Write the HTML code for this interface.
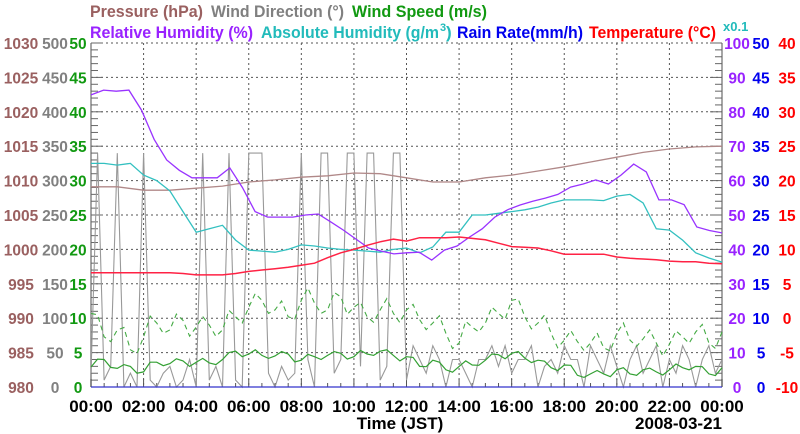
<!DOCTYPE html>
<html><head><meta charset="utf-8"><style>
html,body{margin:0;padding:0;background:#fff;}
svg{display:block;font-family:"Liberation Sans",Arial,sans-serif;font-weight:bold;}
</style></head><body>
<svg id="chart" width="800" height="434" viewBox="0 0 800 434" xmlns="http://www.w3.org/2000/svg">
<g font-size="17">
<text x="90" y="17" fill="#9a6060" textLength="113" lengthAdjust="spacingAndGlyphs">Pressure (hPa)</text>
<text x="211" y="17" fill="#808080" textLength="133" lengthAdjust="spacingAndGlyphs">Wind Direction (°)</text>
<text x="352" y="17" fill="#119911" textLength="135" lengthAdjust="spacingAndGlyphs">Wind Speed (m/s)</text>
<text x="90" y="38" fill="#9922ff" textLength="163" lengthAdjust="spacingAndGlyphs">Relative Humidity (%)</text>
<text x="261" y="38" fill="#22bbbb" textLength="178" lengthAdjust="spacingAndGlyphs">Absolute Humidity (g/m</text>
<text x="440" y="31" fill="#22bbbb" font-size="11">3</text>
<text x="446" y="38" fill="#22bbbb">)</text>
<text x="457" y="38" fill="#0000ee" textLength="126" lengthAdjust="spacingAndGlyphs">Rain Rate(mm/h)</text>
<text x="589" y="38" fill="#ff0000" textLength="127" lengthAdjust="spacingAndGlyphs">Temperature (°C)</text>
<text x="723" y="31" fill="#22bbbb" font-size="13">x0.1</text>
</g>
<g id="grid"></g>
<g id="axes"></g>
<g id="series"></g>
<g id="labels" font-size="15.5"></g>
<text x="400" y="429" text-anchor="middle" font-size="17" fill="#000">Time (JST)</text>
<text x="722" y="429" text-anchor="end" font-size="17" fill="#000">2008-03-21</text>
</svg>
<script>
// ---- data ----
const timeTicks = ["00:00","02:00","04:00","06:00","08:00","10:00","12:00","14:00","16:00","18:00","20:00","22:00","00:00"];
const pressureTicks = [980,985,990,995,1000,1005,1010,1015,1020,1025,1030];
const windDirTicks = [0,50,100,150,200,250,300,350,400,450,500];
const windSpeedTicks = [0,5,10,15,20,25,30,35,40,45,50];
const rhTicks = [0,10,20,30,40,50,60,70,80,90,100];
const rainTicks = [0,5,10,15,20,25,30,35,40,45,50];
const tempTicks = [-10,-5,0,5,10,15,20,25,30,35,40];
// hourly (0..24) series
const pressure = [1009.1,1009.1,1008.6,1008.6,1008.9,1009.2,1009.8,1010.1,1010.5,1010.7,1011.1,1011.0,1010.4,1009.8,1009.8,1010.4,1010.8,1011.4,1012.0,1012.7,1013.4,1014.1,1014.6,1014.9,1015.0];
// half-hourly (0..24)
const relHumidity = [84.9,86.3,86.0,86.3,80.5,72,66,63,60.8,60.8,60.8,63.7,58,51,49.4,49.4,49.4,50,50.3,48,45.6,43,40.4,39.5,38.7,39,39.2,36.9,39.8,41,43.6,46,49.4,51.5,52.9,54,54.9,56,58.1,59,60.2,59,61.6,64.8,62.5,54.4,54.4,53,46.5,45.5,44.8];
const absHumidity = [65,65,64.5,65,61.6,60,57,51,45,46,47,42.7,39.8,39.5,39.2,40,41.3,41,40.4,40,39.8,39.5,39.2,40,40.4,39,40.7,45,45,50,50,50.5,51,51.5,52.3,53.5,54.4,54.4,54.4,54.2,55.5,56,53.5,46,45.6,42.7,39,37.5,36.3];
const temperature = [6.6,6.6,6.6,6.6,6.6,6.6,6.6,6.5,6.3,6.3,6.3,6.5,6.8,7,7.2,7.4,7.7,8,8.8,9.5,10,10.6,11.1,11.5,11.2,11.7,11.7,11.7,11.8,11.6,11.4,10.9,10.4,10.3,10.2,9.8,9.3,9.3,9.3,9.3,8.9,8.7,8.6,8.5,8.3,8.2,8.2,8.0,7.9];
const windSpeed = [2.9,4.0,2.7,3.0,2.2,3.6,3.4,3.8,3.6,3.5,4.0,5.2,4.8,4.6,4.5,4.8,3.9,4.4,4.6,4.9,4.4,4.8,5.2,4.6,4.4,3.0,3.9,2.5,3.0,3.2,3.9,4.7,4.9,4.2,3.9,2.8,3.2,1.7,1.9,1.9,2.5,1.9,2.5,2.2,2.5,2.8,3.0,1.9,2.8];
const windGust = [10.7,7.3,8.3,5.4,7.3,9.3,8.3,9.7,8.7,9.0,8.3,10.2,11.6,12.6,11.2,10.2,12.6,12.2,11.2,13.1,11.6,10.2,11.2,10.7,11.2,9.8,9.3,7.8,6.4,8.7,9.3,10.7,12.6,10.2,9.3,7.8,6.8,6.6,6.4,5.7,7.8,6.8,7.0,6.4,6.2,7.3,8.0,6.4,8.0];
// gust jitter offsets (detail read from dashes)
const gustJitter = [1.5,-1.2,1.8,-1.5,2.0,-1.0,1.6,-1.8,1.4,-1.3,1.9,-1.6];
// speed jitter offsets
const speedJitter = [0.6,-0.5,0.4,-0.6,0.7,-0.4,0.5,-0.7];
// 15-minute wind direction
const windDir = [20,340,10,30,340,0,20,0,340,10,0,20,30,0,10,40,0,340,10,30,0,340,10,0,340,340,340,20,0,30,10,20,340,40,0,340,340,20,40,340,340,30,340,340,10,30,340,340,10,60,40,20,60,40,0,40,40,20,0,40,40,60,30,60,20,40,40,60,0,30,40,20,60,40,40,0,60,40,20,60,30,0,40,60,20,40,60,0,40,20,60,40,0,40,60,20,40];

// ---- geometry ----
const L=91,R=722,T=43,B=387;
const NS='http://www.w3.org/2000/svg';
function xT(h){return L+(R-L)*h/24;}
function yLin(v,min,max){return B-(B-T)*(v-min)/(max-min);}
const yP=v=>yLin(v,980,1030), yWD=v=>yLin(v,0,500), yWS=v=>yLin(v,0,50), yRH=v=>yLin(v,0,100), yTmp=v=>yLin(v,-10,40);
function el(tag,attrs,parent){const e=document.createElementNS(NS,tag);for(const k in attrs)e.setAttribute(k,attrs[k]);parent.appendChild(e);return e;}
const grid=document.getElementById('grid'),axes=document.getElementById('axes'),series=document.getElementById('series'),labels=document.getElementById('labels');

for(let i=0;i<=10;i++){const y=yWS(i*5);
  const g=el('line',{x1:L,x2:R,y1:y,y2:y,stroke:'#555','stroke-dasharray':'2,3','stroke-width':1},grid);
  
  
}
for(let i=1;i<12;i++){const x=xT(i*2);
  const g=el('line',{x1:x,x2:x,y1:T,y2:B,stroke:'#555','stroke-dasharray':'2,3','stroke-width':1},grid);
  
  
}
const al=el('line',{x1:L,x2:L,y1:T,y2:B,stroke:'#888','stroke-width':1.5},axes);


const ar=el('line',{x1:R,x2:R,y1:T,y2:B,stroke:'#888','stroke-width':1.5},axes);


for(let v=0;v<=50;v++){const y=yWS(v);const len=v%5===0?12:7;
  el('line',{x1:L,x2:L+len,y1:y,y2:y,stroke:'#666','stroke-width':1},axes);
  el('line',{x1:R-len,x2:R,y1:y,y2:y,stroke:'#666','stroke-width':1},axes);
}
for(let m=0;m<=48;m++){const x=xT(m/2);const len=m%4===0?8:4;
  el('line',{x1:x,x2:x,y1:B-len,y2:B,stroke:'#555','stroke-width':1},axes);
}
function poly(vals,fx,fy,attrs,name){
  const pts=vals.map((v,i)=>fx(i,vals.length).toFixed(1)+','+fy(v).toFixed(1)).join(' ');
  const p=el('polyline',Object.assign({points:pts,fill:'none'},attrs),series);
  
  
  return p;
}
const fx=(i,n)=>xT(24*i/(n-1));
function detail(arr,jit){const out=[];arr.forEach((v,i)=>{out.push(v);if(i<arr.length-1)out.push((v+arr[i+1])/2+jit[i%jit.length]);});return out;}
poly(windDir,fx,yWD,{stroke:'#999','stroke-width':1.1},'wind-direction-line');
poly(detail(windGust,gustJitter),fx,yWS,{stroke:'#44aa44','stroke-width':1.1,'stroke-dasharray':'5,4'},'wind-gust-line');
poly(detail(windSpeed,speedJitter),fx,yWS,{stroke:'#33a033','stroke-width':1.2},'wind-speed-line');
poly(pressure,fx,yP,{stroke:'#b08888','stroke-width':1.3},'pressure-line');
poly(absHumidity,fx,yRH,{stroke:'#33c0c0','stroke-width':1.3},'absolute-humidity-line');
poly(relHumidity,fx,yRH,{stroke:'#9933ff','stroke-width':1.3},'relative-humidity-line');
poly(temperature,fx,yTmp,{stroke:'#ff2244','stroke-width':1.5},'temperature-line');
const rl=el('line',{x1:L,x2:R,y1:B,y2:B,stroke:'#3333cc','stroke-width':1.2},series);


function lab(txt,x,y,color,name){const t=el('text',{x:x,y:y+6,fill:color,'text-anchor':'middle'},labels);t.textContent=txt;
  
  
}
pressureTicks.forEach(v=>lab(v,21,yP(v),'#9a6060','pressure-tick-label'));
windDirTicks.forEach(v=>lab(v,55,yWD(v),'#808080','wind-direction-tick-label'));
windSpeedTicks.forEach(v=>lab(v,78,yWS(v),'#119911','wind-speed-tick-label'));
rhTicks.forEach(v=>lab(v,737,yRH(v),'#9922ff','humidity-tick-label'));
rainTicks.forEach(v=>lab(v,761,yLin(v,0,50),'#0000ee','rain-tick-label'));
tempTicks.forEach(v=>lab(v,787,yTmp(v),'#ff0000','temperature-tick-label'));
timeTicks.forEach((s,i)=>{const t=el('text',{x:xT(i*2),y:412,fill:'#000','text-anchor':'middle','font-size':17},labels);t.textContent=s;
  
  
});
</script>
</body></html>
